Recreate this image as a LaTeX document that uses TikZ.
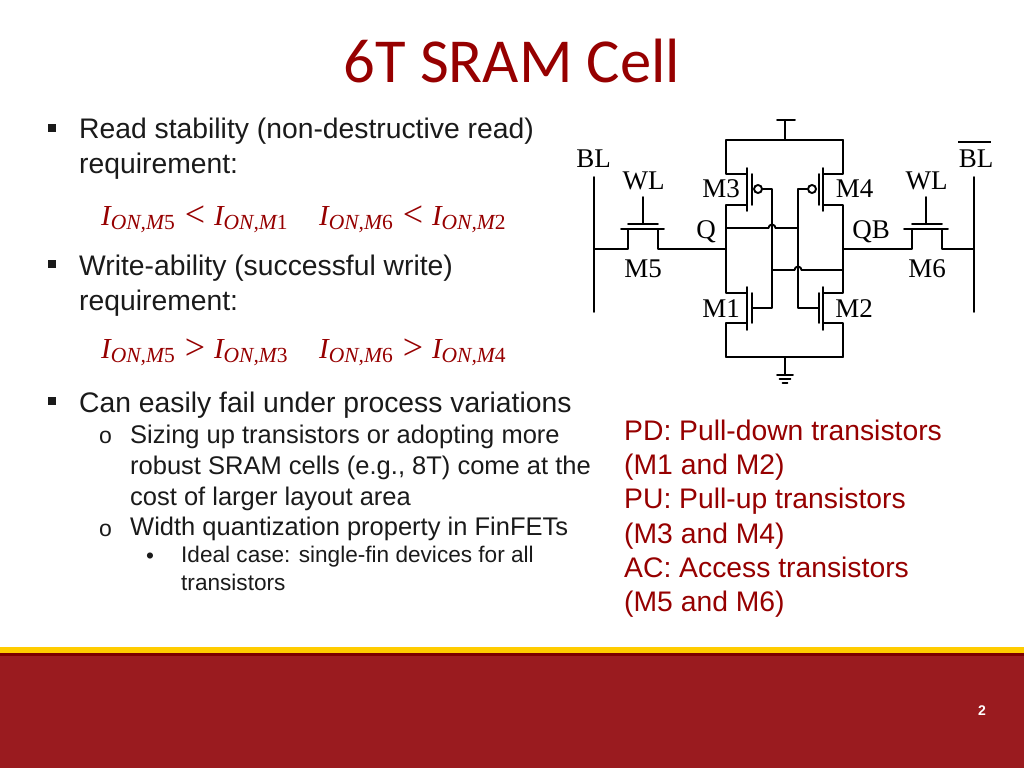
\documentclass[tikz,border=0pt]{standalone}
\usepackage{fontspec}
\setmainfont{Liberation Sans}
\newfontfamily\serifcir{Liberation Serif}
\newfontfamily\titlefont{Carlito}
\usepackage{tikz}
\definecolor{uscred}{HTML}{9A1B1F}
\definecolor{titlered}{HTML}{960000}
\definecolor{bandyellow}{HTML}{FFCC00}
\definecolor{banddark}{HTML}{7A0000}
\definecolor{bodytext}{HTML}{1A1A1A}
\newcommand{\ion}[1]{{\itshape I}\raisebox{-4.5pt}{\fontsize{21.5}{21.5}\selectfont\itshape ON,M\upshape #1}}
\newcommand{\rel}[1]{\hspace{10pt}\raisebox{-1.5pt}{\fontsize{36}{36}\selectfont #1}\hspace{9pt}}
\tikzset{
  wire/.style={line width=1.9pt, line cap=round, line join=round, black},
  lbl/.style={inner sep=0pt, font=\serifcir\fontsize{27}{27}\selectfont, anchor=center},
  body/.style={inner sep=0pt, anchor=north west, align=left, text=bodytext},
  mainitem/.style={body, font=\fontsize{28.3}{34.3}\selectfont},
  subitem/.style={body, font=\fontsize{25.5}{31}\selectfont},
  subsub/.style={body, font=\fontsize{22.6}{27.5}\selectfont},
  redtext/.style={inner sep=0pt, anchor=north west, align=left, text=titlered, font=\fontsize{28.3}{34.1}\selectfont},
  eqn/.style={inner sep=0pt, anchor=base west, text=titlered, font=\serifcir\fontsize{29}{29}\selectfont},
  sqbullet/.style={fill=bodytext, inner sep=0pt, minimum size=8pt},
  bubble/.style={circle, draw, line width=1.9pt, inner sep=0pt, minimum size=8pt},
  subbullet/.style={inner sep=0pt, anchor=base west, text=bodytext, font=\fontsize{23}{23}\selectfont},
}
\begin{document}
\begin{tikzpicture}[x=1pt,y=-1pt]
  \useasboundingbox (0,0) rectangle (1024,768);
  % footer band
  \fill[uscred] (0,647) rectangle (1024,768);
  \fill[bandyellow] (0,647) rectangle (1024,653);
  \fill[banddark] (0,653) rectangle (1024,656);
  \node[inner sep=0pt, text=white, font=\bfseries\fontsize{14}{14}\selectfont] (pagenum) at (982,711) {2};

  % title
  \node[inner sep=0pt, anchor=base, text=titlered, font=\titlefont\fontsize{62.6}{62.6}\selectfont] (title) at (512,82) {6T SRAM Cell};

  % left text
  \node[sqbullet] (b1) at (52,128) {};
  \node[mainitem] (read) at (79,118) {Read stability (non-destructive read)\\requirement:};
  \node[eqn] (eqa) at (101,225) {\ion{5}\rel{<}\ion{1}};
  \node[eqn] (eqb) at (319,225) {\ion{6}\rel{<}\ion{2}};
  \node[sqbullet] (b2) at (52,264) {};
  \node[mainitem] (write) at (79,255) {Write-ability (successful write)\\requirement:};
  \node[eqn] (eqc) at (101,358) {\ion{5}\rel{>}\ion{3}};
  \node[eqn] (eqd) at (319,358) {\ion{6}\rel{>}\ion{4}};
  \node[sqbullet] (b3) at (52,401) {};
  \node[mainitem] (fail) at (79,392) {Can easily fail under process variations};
  \node[subbullet] (o1) at (99,443) {o};
  \node[subitem] (sizing) at (130,425) {Sizing up transistors or adopting more\\robust SRAM cells (e.g., 8T) come at the\\cost of larger layout area};
  \node[subbullet] (o2) at (99,536) {o};
  \node[subitem] (width) at (130,517) {Width quantization property in FinFETs};
  \node[subsub, anchor=base west] (dot1) at (146,563) {•};
  \node[subsub] (ideal) at (181,546) {Ideal case: single-fin devices for all\\transistors};

  % right text
  \node[redtext] (notes) at (624,420) {PD: Pull-down transistors\\(M1 and M2)\\PU: Pull-up transistors\\(M3 and M4)\\AC: Access transistors\\(M5 and M6)};

  % circuit junctions
  \coordinate (vddtop) at (785,120);
  \coordinate (vdd) at (785,140);
  \coordinate (gndn) at (785,357);
  \coordinate (gndb) at (785,375);
  \coordinate (railtl) at (726,140);
  \coordinate (railtr) at (843,140);
  \coordinate (railbl) at (726,357);
  \coordinate (railbr) at (843,357);
  \coordinate (q) at (726,249);
  \coordinate (qb) at (843,249);
  \coordinate (blt) at (594,177);
  \coordinate (blb) at (594,312);
  \coordinate (bl) at (594,249);
  \coordinate (nblt) at (974,177);
  \coordinate (nblb) at (974,312);
  \coordinate (nbl) at (974,249);
  \coordinate (gl) at (772,189);
  \coordinate (glb) at (772,308);
  \coordinate (gr) at (798,189);
  \coordinate (grb) at (798,308);
  \coordinate (qs) at (726,228);
  \coordinate (qe) at (798,228);
  \coordinate (qbs) at (843,270);
  \coordinate (qbe) at (772,270);

  % supply rails
  \draw[wire] (777,120) -- (795,120);
  \draw[wire] (vddtop) -- (vdd);
  \draw[wire] (railtl) -- (railtr);
  \draw[wire] (railbl) -- (railbr);
  \draw[wire] (gndn) -- (gndb);
  \draw[wire] (777,375) -- (793,375);
  \draw[wire] (779.5,379) -- (790.5,379);
  \draw[wire] (782.5,383) -- (787.5,383);

  % bit lines
  \draw[wire] (blt) -- (blb);
  \draw[wire] (nblt) -- (nblb);

  % M5
  \draw[wire] (bl) -- (628,249) -- (628,229);
  \draw[wire] (621,229) -- (664,229);
  \draw[wire] (628,224) -- (658,224);
  \draw[wire] (643,197) -- (643,224);
  \draw[wire] (658,229) -- (658,249) -- (q);
  % M6
  \draw[wire] (qb) -- (912,249) -- (912,229);
  \draw[wire] (904,229) -- (948,229);
  \draw[wire] (912,224) -- (942,224);
  \draw[wire] (926,197) -- (926,224);
  \draw[wire] (942,229) -- (942,249) -- (nbl);

  % M3, M1
  \draw[wire] (railtl) -- (726,174) -- (747,174);
  \draw[wire] (747,168) -- (747,211);
  \draw[wire] (752,174) -- (752,205);
  \draw[wire] (747,205) -- (726,205) -- (726,293) -- (747,293);
  \draw[wire] (747,287) -- (747,330);
  \draw[wire] (752,293) -- (752,323);
  \draw[wire] (747,323) -- (726,323) -- (railbl);
  \node[bubble] (bubl) at (758,189) {};
  \draw[wire] (bubl) -- (gl) -- (glb) -- (752,308);

  % M4, M2
  \draw[wire] (railtr) -- (843,174) -- (823,174);
  \draw[wire] (823,168) -- (823,211);
  \draw[wire] (819,174) -- (819,205);
  \draw[wire] (823,205) -- (843,205) -- (843,293) -- (823,293);
  \draw[wire] (823,287) -- (823,330);
  \draw[wire] (819,293) -- (819,323);
  \draw[wire] (823,323) -- (843,323) -- (railbr);
  \node[bubble] (bubr) at (812,189) {};
  \draw[wire] (bubr) -- (gr) -- (grb) -- (819,308);

  % cross coupling
  \draw[wire] (qs) -- (768.5,228) arc[start angle=180, end angle=360, radius=3.5] -- (qe);
  \draw[wire] (qbs) -- (801.5,270) arc[start angle=360, end angle=180, radius=3.5] -- (qbe);

  % circuit labels
  \node[lbl] (bll) at (593.5,159) {BL};
  \node[lbl] (wll) at (643.5,181) {WL};
  \node[lbl] (m3) at (721,189) {M3};
  \node[lbl] (ql) at (706,232) {Q};
  \node[lbl] (m5) at (643,269) {M5};
  \node[lbl] (m1) at (721,309) {M1};
  \node[lbl] (m4) at (854.5,189) {M4};
  \node[lbl] (qbl) at (871,232) {QB};
  \node[lbl] (wlr) at (926.5,181) {WL};
  \node[lbl] (m6) at (927,269) {M6};
  \node[lbl] (m2) at (854,309) {M2};
  \node[lbl] (blr) at (976,159) {BL};
  \draw[line width=1.2pt] (958,142) -- (991,142);
\end{tikzpicture}
\end{document}
